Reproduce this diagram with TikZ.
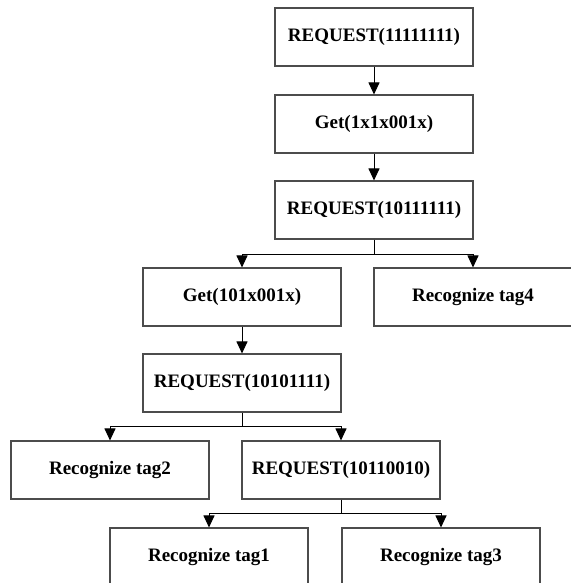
\documentclass[tikz,border=0pt]{standalone}
\usepackage{fontspec}
\setmainfont{Liberation Serif}
\usetikzlibrary{arrows.meta}

\begin{document}
\begin{tikzpicture}[x=1pt, y=-1pt,
  box/.style={draw=black!70, line width=1.1pt, minimum width=198pt, minimum height=58pt, inner sep=0pt, font=\bfseries\fontsize{19}{21}\selectfont},
  link/.style={line width=1pt, -{Triangle[length=12pt, width=11pt]}}]
\useasboundingbox (0, 0) rectangle (570, 583);
\node[box] (req1) at (374, 37) {REQUEST(11111111)};
\node[box] (get1) at (374, 124) {Get(1x1x001x)};
\node[box] (req2) at (374, 210) {REQUEST(10111111)};
\node[box] (get2) at (242, 297) {Get(101x001x)};
\node[box] (tag4) at (473, 297) {Recognize tag4};
\node[box] (req3) at (242, 383) {REQUEST(10101111)};
\node[box] (tag2) at (110, 470) {Recognize tag2};
\node[box] (req4) at (341, 470) {REQUEST(10110010)};
\node[box] (tag1) at (209, 557) {Recognize tag1};
\node[box] (tag3) at (441, 557) {Recognize tag3};
\draw[link] (req1) -- (get1);
\draw[link] (get1) -- (req2);
\draw[line width=1pt] (req2.south) -- ++(0, 15) coordinate (fork1);
\draw[link] (fork1) -| (get2.north);
\draw[link] (fork1) -| (tag4.north);
\draw[link] (get2) -- (req3);
\draw[line width=1pt] (req3.south) -- ++(0, 14) coordinate (fork2);
\draw[link] (fork2) -| (tag2.north);
\draw[link] (fork2) -| (req4.north);
\draw[line width=1pt] (req4.south) -- ++(0, 14) coordinate (fork3);
\draw[link] (fork3) -| (tag1.north);
\draw[link] (fork3) -| (tag3.north);
\end{tikzpicture}
\end{document}
